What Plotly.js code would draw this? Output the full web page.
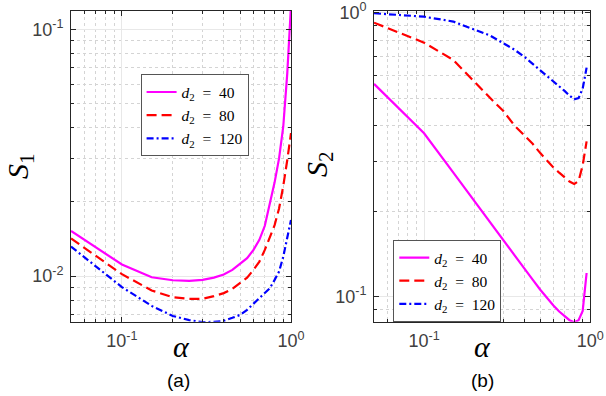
<!DOCTYPE html>
<html>
<head>
<meta charset="utf-8">
<script src="https://cdn.plot.ly/plotly-3.0.1.min.js"></script>
<style>
  html, body { margin: 0; padding: 0; background: #fff; }
  #grafico { width: 606px; height: 396px; }
</style>
</head>
<body>
<div id="grafico"></div>
<script>
// alpha values
const alphaA = [0.05, 0.1, 0.15, 0.2, 0.25, 0.3, 0.35, 0.4, 0.45, 0.5, 0.55, 0.6, 0.65, 0.7, 0.75, 0.8, 0.85, 0.9, 0.95, 1.0];
const alphaB = [0.05, 0.1, 0.15, 0.2, 0.25, 0.3, 0.35, 0.4, 0.45, 0.5, 0.55, 0.6, 0.65, 0.7, 0.75, 0.8, 0.85, 0.9, 0.95];

// panel (a): S1
const s1_d40 = [0.01524, 0.01115, 0.0099, 0.00963, 0.00957, 0.00966, 0.00987, 0.01015, 0.0106, 0.0112, 0.01183, 0.01278, 0.01403, 0.0160, 0.0195, 0.0240, 0.0300, 0.0404, 0.066, 0.125];
const s1_d80 = [0.01422, 0.01019, 0.00875, 0.00822, 0.00809, 0.0081, 0.0083, 0.00854, 0.00888, 0.00937, 0.00987, 0.0106, 0.01146, 0.01278, 0.01438, 0.0161, 0.0188, 0.0232, 0.0295, 0.038];
const s1_d120 = [0.01318, 0.00903, 0.00758, 0.0069, 0.00664, 0.00651, 0.00653, 0.00659, 0.00678, 0.00697, 0.00731, 0.00773, 0.00817, 0.00854, 0.00894, 0.00966, 0.01044, 0.0120, 0.01425, 0.0169];

// panel (b): S2
const s2_d40 = [0.561, 0.376, 0.273, 0.217, 0.182, 0.158, 0.140, 0.126, 0.1146, 0.1056, 0.0985, 0.0930, 0.0885, 0.0850, 0.0825, 0.0812, 0.0825, 0.089, 0.121];
const s2_d80 = [0.922, 0.784, 0.681, 0.57, 0.50, 0.45, 0.40, 0.37, 0.345, 0.32, 0.30, 0.285, 0.273, 0.262, 0.254, 0.249, 0.255, 0.29, 0.352];
const s2_d120 = [0.995, 0.968, 0.93, 0.875, 0.83, 0.78, 0.74, 0.70, 0.66, 0.63, 0.60, 0.575, 0.55, 0.53, 0.51, 0.495, 0.50, 0.54, 0.64];

const nombres = ['<i>d</i><sub>2</sub>\u2002=\u200240', '<i>d</i><sub>2</sub>\u2002=\u200280', '<i>d</i><sub>2</sub>\u2002=\u2002120'];
const colores = ['#ff00ff', '#ff0000', '#0000ff'];
const estilos = ['solid', '10px,5px', '7px,3px,2px,3px'];

const xMinor = [0.06, 0.07, 0.08, 0.09, 0.2, 0.3, 0.4, 0.5, 0.6, 0.7, 0.8, 0.9];
const y1Minor = [0.007, 0.008, 0.009, 0.02, 0.03, 0.04, 0.05, 0.06, 0.07, 0.08, 0.09];
const y2Minor = [0.09, 0.2, 0.3, 0.4, 0.5, 0.6, 0.7, 0.8, 0.9];

function serie(x, y, i, xa, ya, leg) {
    return {
        x: x, y: y, type: 'scatter', mode: 'lines',
        name: nombres[i], xaxis: xa, yaxis: ya, legend: leg,
        line: { color: colores[i], width: 2.2, dash: estilos[i] }
    };
}

const trazas = [
    serie(alphaA, s1_d40, 0, 'x', 'y', 'legend'),
    serie(alphaA, s1_d80, 1, 'x', 'y', 'legend'),
    serie(alphaA, s1_d120, 2, 'x', 'y', 'legend'),
    serie(alphaB, s2_d40, 0, 'x2', 'y2', 'legend2'),
    serie(alphaB, s2_d80, 1, 'x2', 'y2', 'legend2'),
    serie(alphaB, s2_d120, 2, 'x2', 'y2', 'legend2')
];

const tickFont = { family: 'Liberation Sans, Arial, sans-serif', size: 18, color: '#404040' };
const serif = 'Liberation Serif, Times New Roman, serif';

function eje(domain, range, tickvals, ticktext, minorVals, anchor) {
    return {
        type: 'log', domain: domain, range: range, anchor: anchor,
        tickmode: 'array', tickvals: tickvals, ticktext: ticktext,
        ticks: 'inside', ticklen: 5, tickcolor: '#262626', tickwidth: 1,
        showline: true, linecolor: '#262626', linewidth: 1, mirror: 'allticks',
        showgrid: true, gridcolor: '#e8e8e8', gridwidth: 1,
        zeroline: false, tickfont: tickFont, ticklabelstandoff: 3,
        minor: {
            tickmode: 'array', tickvals: minorVals,
            ticks: 'inside', ticklen: 3, tickcolor: '#262626',
            showgrid: true, gridcolor: '#d4d4d4', griddash: 'dot', gridwidth: 1
        }
    };
}

const legendBase = {
    bgcolor: '#ffffff', bordercolor: '#555555', borderwidth: 1,
    font: { family: serif, size: 15.5, color: '#000' },
    xanchor: 'left', yanchor: 'top', itemwidth: 30, tracegroupgap: 0
};

function etiqueta(text, px, py, size, family, angle) {
    return {
        text: text, x: px / 606, y: 1 - py / 396, xref: 'paper', yref: 'paper',
        xanchor: 'center', yanchor: 'middle', showarrow: false, textangle: angle || 0,
        font: { family: family, size: size, color: '#000' }
    };
}

const layout = {
    width: 606, height: 396,
    margin: { l: 0, r: 0, t: 0, b: 0 },
    paper_bgcolor: '#ffffff', plot_bgcolor: '#ffffff',
    showlegend: true,
    xaxis: eje([0.1172, 0.4802], [Math.log10(0.05), 0], [0.1, 1], ['10<sup>-1</sup>', '10<sup>0</sup>'], xMinor, 'y'),
    yaxis: eje([0.1876, 0.973], [Math.log10(0.00654), Math.log10(0.119)], [0.01, 0.1], ['10<sup>-2</sup>', '10<sup>-1</sup>'], y1Minor, 'x'),
    xaxis2: eje([0.6172, 0.9741], [Math.log10(0.05), 0], [0.1, 1], ['10<sup>-1</sup>', '10<sup>0</sup>'], xMinor, 'y2'),
    yaxis2: eje([0.1876, 0.973], [Math.log10(0.0815), Math.log10(1.016)], [0.1, 1], ['10<sup>-1</sup>', '10<sup>0</sup>'], y2Minor, 'x2'),
    legend: Object.assign({}, legendBase, { x: 0.232, y: 0.812 }),
    legend2: Object.assign({}, legendBase, { x: 0.649, y: 0.394 }),
    annotations: [
        etiqueta('<i>α</i>', 181, 346, 30, serif),
        etiqueta('<i>α</i>', 482, 346, 30, serif),
        etiqueta('<i>S</i><sub>1</sub>', 20, 166, 30, serif, -90),
        etiqueta('<i>S</i><sub>2</sub>', 319, 164, 30, serif, -90),
        etiqueta('(a)', 178, 380, 19, 'Liberation Sans, Arial, sans-serif'),
        etiqueta('(b)', 482, 380, 19, 'Liberation Sans, Arial, sans-serif')
    ]
};

Plotly.newPlot('grafico', trazas, layout, { displayModeBar: false, staticPlot: true });
</script>
</body>
</html>
